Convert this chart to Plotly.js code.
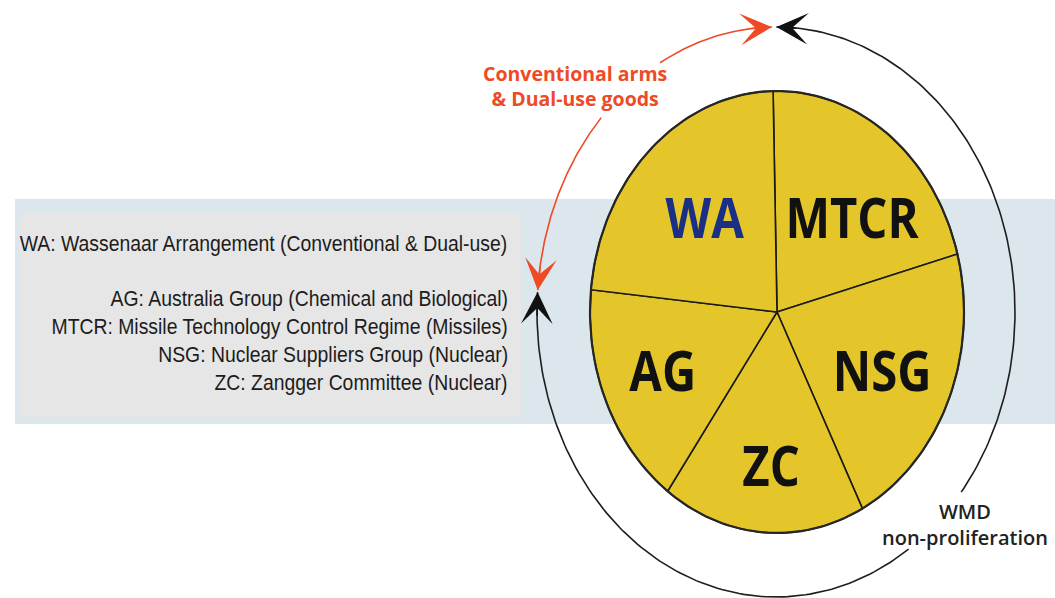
<!DOCTYPE html>
<html><head><meta charset="utf-8">
<script src="https://cdn.plot.ly/plotly-3.0.1.min.js"></script>
<style>html,body{margin:0;padding:0;background:#fff;overflow:hidden}#chart{width:1055px;height:598px}</style>
</head><body><div id="chart"></div>
<script>
// ---- data (slice shares in degrees of arc, clockwise from the top) ----
const regimes = ['MTCR', 'NSG', 'ZC', 'AG', 'WA'];
const shares = [76, 78, 63, 60, 83];
const labelColors = ['#111111', '#111111', '#111111', '#111111', '#1b2f84'];
const descriptions = [
  'WA: Wassenaar Arrangement (Conventional & Dual-use)',
  'AG: Australia Group (Chemical and Biological)',
  'MTCR: Missile Technology Control Regime (Missiles)',
  'NSG: Nuclear Suppliers Group (Nuclear)',
  'ZC: Zangger Committee (Nuclear)'
];
const conventionalLabel = ['Conventional arms', '& Dual-use goods'];
const wmdLabel = ['WMD', 'non-proliferation'];

// ---- geometry / style ----
const W = 1055, H = 598;
const PIE = {cx: 777, cy: 312, rx: 187, ry: 221, start: 91.2};
const RING = {cx: 776, cy: 312, rx: 239, ry: 285};
const LABEL_R = [0.58, 0.625, 0.705, 0.67, 0.57];
const LABEL_DA = [-7, -2, 1.7, 0, 0];
const LABEL_DY = 5;
const YELLOW = '#e4c62a';
const RED = '#ee4a25';

function pt(e, deg, f) {
  f = f === undefined ? 1 : f;
  const t = deg * Math.PI / 180;
  return [e.cx + e.rx * f * Math.cos(t), e.cy - e.ry * f * Math.sin(t)];
}
function arc(e, a0, a1, n) {
  const xs = [], ys = [];
  for (let i = 0; i <= n; i++) {
    const p = pt(e, a0 + (a1 - a0) * i / n);
    xs.push(p[0]); ys.push(p[1]);
  }
  return {x: xs, y: ys};
}

const traces = [];
const total = shares.reduce((a, b) => a + b, 0);
let cum = 0;
const lx = [], ly = [];
shares.forEach((v, i) => {
  const a0 = PIE.start - cum / total * 360;
  cum += v;
  const a1 = PIE.start - cum / total * 360;
  const a = arc(PIE, a0, a1, 80);
  traces.push({
    type: 'scatter', mode: 'lines', fill: 'toself', fillcolor: YELLOW,
    x: [PIE.cx].concat(a.x, [PIE.cx]), y: [PIE.cy].concat(a.y, [PIE.cy]),
    line: {color: '#1a1a1a', width: 1.6}, hoverinfo: 'skip', name: regimes[i]
  });
  const p = pt(PIE, (a0 + a1) / 2 + LABEL_DA[i], LABEL_R[i]);
  lx.push(p[0]); ly.push(p[1] + LABEL_DY);
});
const ol = arc(PIE, 0, 360, 240);
traces.push({type: 'scatter', mode: 'lines', x: ol.x, y: ol.y,
  line: {color: '#262626', width: 2.2}, hoverinfo: 'skip'});
traces.push({type: 'scatter', mode: 'text', x: lx, y: ly, text: regimes,
  textposition: 'middle center',
  textfont: {family: 'Open Sans, sans-serif', size: 55, weight: 700, color: labelColors},
  hoverinfo: 'skip'});

const ringArcs = [
  {a0: 91.0, a1: 119, color: RED},
  {a0: 137, a1: 175.6, color: RED},
  {a0: 89.9, a1: -39.2, color: '#1e1e1e'},
  {a0: -56.3, a1: -184.0, color: '#1e1e1e'}
];
ringArcs.forEach(r => {
  const a = arc(RING, r.a0, r.a1, 120);
  traces.push({type: 'scatter', mode: 'lines', x: a.x, y: a.y,
    line: {color: r.color, width: 1.6}, hoverinfo: 'skip'});
});

const arrowTips = [
  {tip: 91.0, dir: -1, color: RED},
  {tip: 175.6, dir: 1, color: RED},
  {tip: 89.9, dir: 1, color: '#111'},
  {tip: -184.0, dir: -1, color: '#111'}
];
const annotations = [], annFx = [];
arrowTips.forEach(a => {
  const p = pt(RING, a.tip), q = pt(RING, a.tip - a.dir * 5);
  annotations.push({x: p[0], y: p[1], ax: q[0], ay: q[1], axref: 'x', ayref: 'y',
    xref: 'x', yref: 'y', text: '', showarrow: true, arrowhead: 3, arrowsize: 3.3,
    arrowwidth: 1.6, arrowcolor: a.color, standoff: 0});
  annFx.push(null);
});

const descY = [243, 298, 326, 354, 382];
descriptions.forEach((d, i) => {
  annotations.push({x: 510, y: descY[i], xref: 'x', yref: 'y', text: d, showarrow: false,
    xanchor: 'right', yanchor: 'middle',
    font: {family: 'Liberation Sans, Arial, sans-serif', size: 22, color: '#1c1c1c'}});
  annFx.push({kind: 'desc', origin: 'right center'});
});
annotations.push({x: 575, y: 86, xref: 'x', yref: 'y', text: conventionalLabel.join('<br>'),
  showarrow: false, xanchor: 'center', yanchor: 'middle', align: 'center',
  font: {family: 'Open Sans, sans-serif', size: 19.5, weight: 700, color: RED}});
annFx.push({kind: 'width', target: 195, origin: 'center'});
annotations.push({x: 965, y: 524, xref: 'x', yref: 'y', text: wmdLabel.join('<br>'),
  showarrow: false, xanchor: 'center', yanchor: 'middle', align: 'center',
  font: {family: 'Open Sans, sans-serif', size: 20, weight: 600, color: '#222'}});
annFx.push({kind: 'width', target: 178, origin: 'center'});

const layout = {
  width: W, height: H, margin: {l: 0, r: 0, t: 0, b: 0},
  paper_bgcolor: '#ffffff', plot_bgcolor: '#ffffff', showlegend: false, hovermode: false,
  xaxis: {range: [0, W], visible: false, fixedrange: true},
  yaxis: {range: [H, 0], visible: false, fixedrange: true},
  shapes: [
    {type: 'rect', xref: 'x', yref: 'y', x0: 15, x1: W, y0: 199, y1: 424,
      fillcolor: '#dbe7ec', line: {width: 0}, layer: 'below'},
    {type: 'rect', xref: 'x', yref: 'y', x0: 20, x1: 521, y0: 213, y1: 417,
      fillcolor: '#e6e6e6', line: {width: 0}, layer: 'below'}
  ],
  annotations: annotations
};

function squeeze(el, f, origin) {
  el.style.transformBox = 'fill-box';
  el.style.transformOrigin = origin;
  el.style.transform = 'scaleX(' + f + ')';
}

Plotly.newPlot('chart', traces, layout, {staticPlot: true, displayModeBar: false}).then(gd => {
  const groups = Array.from(gd.querySelectorAll('g.annotation'));
  const byIdx = {};
  groups.forEach(g => { byIdx[+g.getAttribute('data-index')] = g.querySelector('text.annotation-text'); });
  // common condensing factor for the description block: widest line spans 488 px
  const descIdx = annFx.findIndex(a => a && a.kind === 'desc');
  const descF = byIdx[descIdx] ? 488 / byIdx[descIdx].getBBox().width : 1;
  annFx.forEach((fx, i) => {
    const el = byIdx[i];
    if (!fx || !el) return;
    const f = fx.kind === 'desc' ? descF : Math.min(1, fx.target / el.getBBox().width);
    squeeze(el, f, fx.origin);
  });
  gd.querySelectorAll('g.textpoint text').forEach(el => squeeze(el, 0.86, 'center'));
});
</script></body></html>
